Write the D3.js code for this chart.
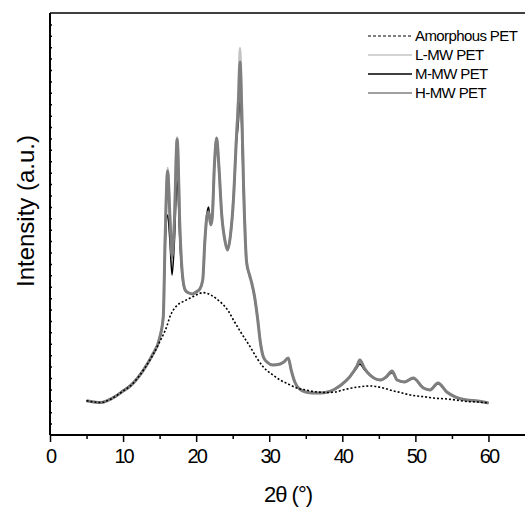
<!DOCTYPE html>
<html>
<head lang="en">
  <title>XRD PET</title>
  <script src="https://d3js.org/d3.v7.min.js" charset="utf-8"></script>
  <style>
    body { margin: 0; background: #fff; }
    text { font-family: "Liberation Sans", Arial, sans-serif; }
  </style>
</head>
<body>
  <script>
    // 2theta positions shared by the three crystalline samples
    var twoTheta = [5, 6, 7, 8, 9, 10, 11, 12, 13, 14, 15, 15.5, 15.75, 16.1, 16.4, 16.7, 17.0, 17.4, 17.8,
      18.1, 18.5, 19, 19.5, 20, 20.5, 20.9, 21.2, 21.5, 21.7, 22.0, 22.2, 22.5, 22.8, 23.1, 23.5, 24, 24.3,
      24.7, 25.1, 25.5, 25.8, 26.0, 26.2, 26.5, 26.9, 27.3, 27.6, 28, 28.4, 28.8, 29.2, 29.7, 30.5, 31.5,
      32.0, 32.6, 33.0, 33.5, 34, 35, 36, 37, 38, 39, 40, 41, 42, 42.4, 43, 43.8, 45.2, 46, 46.8, 47.5,
      48.5, 49.7, 51.1, 52, 53.1, 54.3, 55.5, 57, 58.5, 60];

    var lowMW = [300, 290, 285, 305, 340, 385, 430, 500, 590, 700, 850, 1035, 1710, 2340, 1930, 1560, 1840, 2610, 1770,
      1420, 1270, 1245, 1237, 1254, 1280, 1359, 1710, 1930, 1956, 1842, 1903, 2368, 2605, 2368, 1930, 1684, 1622,
      1754, 2061, 2620, 3030, 3394, 3030, 2200, 1517, 1403, 1333, 1210, 1026, 807, 684, 640, 614, 623,
      640, 675, 570, 465, 412, 377, 368, 368, 377, 403, 447, 509, 605, 658, 588, 526, 482, 509, 561, 482,
      465, 500, 412, 395, 456, 377, 333, 307, 298, 281];

    var midMW = [300, 290, 285, 310, 345, 392, 438, 505, 595, 705, 852, 1040, 1650, 1929, 1710, 1403, 1666, 2236, 1666,
      1400, 1265, 1245, 1237, 1254, 1280, 1359, 1710, 1950, 2000, 1842, 1903, 2368, 2587, 2368, 1930, 1684, 1622,
      1754, 2061, 2560, 2763, 3052, 2763, 2100, 1517, 1403, 1333, 1210, 1026, 807, 684, 640, 614, 623,
      640, 675, 570, 465, 412, 377, 368, 368, 377, 403, 447, 509, 590, 623, 575, 520, 482, 505, 545, 482,
      465, 495, 412, 395, 450, 377, 333, 307, 298, 281];

    var highMW = [300, 290, 285, 305, 340, 385, 430, 500, 590, 700, 850, 1035, 1710, 2315, 1929, 1561, 1842, 2596, 1772,
      1421, 1272, 1245, 1237, 1254, 1280, 1359, 1710, 1929, 1956, 1842, 1903, 2368, 2605, 2368, 1929, 1684, 1622,
      1754, 2061, 2587, 2938, 3271, 2938, 2149, 1517, 1403, 1333, 1210, 1026, 807, 684, 640, 614, 623,
      640, 675, 570, 465, 412, 377, 368, 368, 377, 403, 447, 509, 605, 658, 588, 526, 482, 509, 561, 482,
      465, 500, 412, 395, 456, 377, 333, 307, 298, 281];

    var amorphTheta = [5, 6, 7, 8, 9, 10, 11, 12, 13, 14, 15, 16, 16.4, 17.3, 18.2, 19.2, 20, 21, 22, 22.8, 24.4,
      25.1, 26, 27.4, 28.3, 29.2, 30.3, 31.5, 32.6, 33.8, 35, 36.5, 38, 39, 40.1, 41.3, 42.5, 43.8, 45.6,
      46.8, 47.9, 49, 50.2, 51.5, 52.5, 54.3, 55.5, 57, 58.5, 60];
    var amorphous = [300, 290, 285, 305, 340, 385, 430, 500, 590, 693, 816, 956, 1035, 1131, 1169, 1201, 1228, 1248,
      1228, 1193, 1087, 1009, 912, 772, 675, 596, 535, 482, 447, 412, 395, 377, 373, 377, 395, 412, 424, 430, 412,
      390, 373, 355, 342, 333, 324, 316, 307, 294, 289, 281];

    var xTicks = [0, 10, 20, 30, 40, 50, 60];
    var legendNames = ["Amorphous PET", "L-MW PET", "M-MW PET", "H-MW PET"];

    var width = 525;
    var height = 510;
    var mLeft = 50, mRight = 525, mTop = 13, mBottom = 435;

    var svg = d3.select("body")
      .append("svg")
      .attr("width", width)
      .attr("height", height);

    var x = d3.scaleLinear().domain([0, 65]).range([mLeft, mRight]);
    var y = d3.scaleLinear().domain([0, 3700]).range([mBottom, mTop]);

    var line = d3.line()
      .x(function(d) { return x(d[0]); })
      .y(function(d) { return y(d[1]); })
      .curve(d3.curveMonotoneX);

    function pairs(xs, ys) {
      return xs.map(function(v, i) { return [v, ys[i]]; });
    }

    // curves (light grey under, black, grey on top)
    svg.append("path")
      .attr("d", line(pairs(twoTheta, lowMW)))
      .style("fill", "none").style("stroke", "#c4c4c4").style("stroke-width", 2.5);
    svg.append("path")
      .attr("d", line(pairs(twoTheta, midMW)))
      .style("fill", "none").style("stroke", "#000").style("stroke-width", 1.5);
    svg.append("path")
      .attr("d", line(pairs(twoTheta, highMW)))
      .style("fill", "none").style("stroke", "#7f7f7f").style("stroke-width", 3);
    svg.append("path")
      .attr("d", line(pairs(amorphTheta, amorphous)))
      .style("fill", "none").style("stroke", "#000").style("stroke-width", 1.6)
      .style("stroke-dasharray", "2,2");

    // x axis: major ticks with labels, minor at 5s
    var xAxis = d3.axisBottom(x).tickValues(xTicks).tickSize(7).tickFormat(d3.format("d"));
    var gx = svg.append("g")
      .attr("transform", "translate(0," + mBottom + ")")
      .call(xAxis);
    gx.select(".domain").remove();
    gx.selectAll("line").style("stroke", "#000").style("stroke-width", 1.5);
    gx.selectAll("text")
      .attr("y", 14)
      .style("font-size", "20px")
      .style("letter-spacing", "-2px")
      .style("fill", "#000");

    var xMinor = d3.axisBottom(x).tickValues(d3.range(5, 65, 10)).tickSize(4).tickFormat("");
    var gxm = svg.append("g")
      .attr("transform", "translate(0," + mBottom + ")")
      .call(xMinor);
    gxm.select(".domain").remove();
    gxm.selectAll("line").style("stroke", "#000").style("stroke-width", 1.5);

    // y axis: inward ticks, no labels
    var yAxis = d3.axisRight(y).tickValues(d3.range(100, 3700, 100)).tickSize(2).tickFormat("");
    var gy = svg.append("g")
      .attr("transform", "translate(" + mLeft + ",0)")
      .call(yAxis);
    gy.select(".domain").remove();
    gy.selectAll("line").style("stroke", "#000").style("stroke-width", 1.5);

    // frame
    svg.append("line").attr("x1", mLeft).attr("x2", mRight).attr("y1", mBottom).attr("y2", mBottom)
      .style("stroke", "#000").style("stroke-width", 2);
    svg.append("line").attr("x1", mLeft).attr("x2", mLeft).attr("y1", mTop).attr("y2", mBottom)
      .style("stroke", "#000").style("stroke-width", 2);
    svg.append("line").attr("x1", mLeft).attr("x2", mRight).attr("y1", mTop).attr("y2", mTop)
      .style("stroke", "#000").style("stroke-width", 1.5);

    // axis titles
    svg.append("text")
      .attr("x", 288).attr("y", 502)
      .attr("text-anchor", "middle")
      .style("font-size", "22px")
      .style("letter-spacing", "-1px")
      .text("2\u03b8 (\u00b0)");

    svg.append("text")
      .attr("transform", "translate(34,211) rotate(-90)")
      .attr("text-anchor", "middle")
      .style("font-size", "24px")
      .style("letter-spacing", "0px")
      .text("Intensity (a.u.)");

    // legend
    var legendStyles = [
      { color: "#000", dash: "3,2", w: 1 },
      { color: "#c4c4c4", dash: null, w: 1.5 },
      { color: "#000", dash: null, w: 1.5 },
      { color: "#7f7f7f", dash: null, w: 1.5 }
    ];
    var legend = svg.append("g");
    legendNames.forEach(function(name, i) {
      var ly = 36 + i * 19;
      legend.append("line")
        .attr("x1", 368).attr("x2", 412).attr("y1", ly).attr("y2", ly)
        .style("stroke", legendStyles[i].color)
        .style("stroke-width", legendStyles[i].w)
        .style("stroke-dasharray", legendStyles[i].dash);
      legend.append("text")
        .attr("x", 415).attr("y", ly + 5)
        .style("font-size", "15px")
        .style("letter-spacing", "-0.6px")
        .text(name);
    });
  </script>
</body>
</html>
